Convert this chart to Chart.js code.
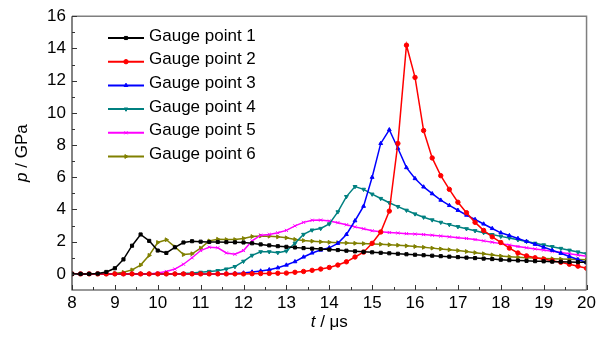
<!DOCTYPE html>
<html>
<head>
<meta charset="utf-8">
<script src="https://cdn.jsdelivr.net/npm/chart.js@4/dist/chart.umd.min.js"></script>
<style>
  html, body { margin: 0; padding: 0; background: #fff; }
  #wrap { width: 599px; height: 342px; position: relative; }
</style>
</head>
<body>
<div id="wrap"><canvas id="pressureChart"></canvas></div>
<script>
// time axis (µs), one sample every 0.2 µs
const times = [
  8.0, 8.2, 8.4, 8.6, 8.8, 9.0, 9.2, 9.4, 9.6, 9.8,
  10.0, 10.2, 10.4, 10.6, 10.8, 11.0, 11.2, 11.4, 11.6, 11.8,
  12.0, 12.2, 12.4, 12.6, 12.8, 13.0, 13.2, 13.4, 13.6, 13.8,
  14.0, 14.2, 14.4, 14.6, 14.8, 15.0, 15.2, 15.4, 15.6, 15.8,
  16.0, 16.2, 16.4, 16.6, 16.8, 17.0, 17.2, 17.4, 17.6, 17.8,
  18.0, 18.2, 18.4, 18.6, 18.8, 19.0, 19.2, 19.4, 19.6, 19.8,
  20.0
];

// pressure (GPa)
const gauge1 = [
  0, 0, 0, 0.02, 0.12, 0.35, 0.9, 1.75, 2.45, 2.05,
  1.45, 1.3, 1.65, 1.95, 2.03, 2.0, 1.98, 1.98, 1.97, 1.96,
  1.95, 1.9, 1.83, 1.77, 1.72, 1.68, 1.64, 1.6, 1.57, 1.54,
  1.51, 1.48, 1.44, 1.4, 1.37, 1.34, 1.31, 1.28, 1.25, 1.22,
  1.19, 1.16, 1.13, 1.1, 1.07, 1.04, 1.01, 0.98, 0.95, 0.92,
  0.88, 0.85, 0.83, 0.81, 0.79, 0.78, 0.76, 0.75, 0.74, 0.73,
  0.72
];
const gauge2 = [
  0, 0, 0, 0, 0, 0, 0, 0, 0, 0,
  0, 0, 0, 0, 0, 0, 0, 0, 0, 0,
  0, 0.01, 0.02, 0.03, 0.04, 0.05, 0.1, 0.15, 0.22, 0.3,
  0.4, 0.55, 0.75, 1.05, 1.35, 1.9, 2.6, 3.9, 8.1, 14.2,
  12.2, 8.9, 7.2, 6.1, 5.25, 4.45, 3.8, 3.2, 2.7, 2.3,
  1.95, 1.6, 1.3, 1.12, 1.0, 0.92, 0.82, 0.72, 0.6, 0.48,
  0.35
];
const gauge3 = [
  0, 0, 0, 0, 0, 0, 0, 0, 0, 0,
  0, 0, 0, 0, 0, 0, 0, 0, 0.01, 0.03,
  0.06, 0.12, 0.18, 0.26, 0.38, 0.55, 0.76, 1.05, 1.3, 1.48,
  1.62, 1.9, 2.45, 3.3, 4.2, 6.0, 8.1, 8.95, 7.8, 6.6,
  5.92, 5.4, 4.98, 4.58, 4.25, 3.95, 3.65, 3.38, 3.1, 2.82,
  2.55, 2.38, 2.2, 2.02, 1.84, 1.66, 1.47, 1.28, 1.08, 0.89,
  0.7
];
const gauge4 = [
  0, 0, 0, 0, 0, 0, 0, 0, 0, 0,
  0, 0, 0, 0.02, 0.05, 0.1, 0.15, 0.2, 0.3, 0.45,
  0.78, 1.15, 1.37, 1.37, 1.32, 1.42, 1.9, 2.45, 2.72, 2.82,
  3.1, 3.85, 4.8, 5.42, 5.25, 4.95, 4.68, 4.42, 4.18, 3.95,
  3.72, 3.52, 3.35, 3.2, 3.06, 2.93, 2.8, 2.68, 2.56, 2.44,
  2.33, 2.23, 2.12, 2.01, 1.9, 1.8, 1.69, 1.58, 1.47, 1.36,
  1.25
];
const gauge5 = [
  0, 0, 0, 0, 0, 0, 0, 0, 0, 0,
  0.05, 0.15, 0.3, 0.6, 1.0, 1.45, 1.66, 1.62, 1.3, 1.22,
  1.45, 2.05, 2.4, 2.45, 2.55, 2.7, 2.98, 3.2, 3.33, 3.34,
  3.28, 3.18, 3.05, 2.92, 2.8, 2.68, 2.61, 2.57, 2.54, 2.5,
  2.47, 2.44, 2.4, 2.35, 2.3, 2.25, 2.2, 2.13, 2.05, 1.97,
  1.88, 1.79, 1.7, 1.62, 1.55, 1.48, 1.4, 1.33, 1.25, 1.17,
  1.1
];
const gauge6 = [
  0, 0, 0, 0, 0, 0.03, 0.1, 0.25, 0.55, 1.15,
  1.95, 2.12, 1.68, 1.2, 1.25, 1.6, 2.05, 2.15, 2.13, 2.13,
  2.2, 2.32, 2.36, 2.34, 2.3, 2.24, 2.14, 2.07, 2.03, 1.99,
  1.96, 1.94, 1.92, 1.9, 1.88, 1.86, 1.84, 1.81, 1.78, 1.74,
  1.7, 1.65, 1.6, 1.55, 1.5, 1.45, 1.39, 1.32, 1.25, 1.18,
  1.11, 1.07, 1.03, 1.0, 0.98, 0.96, 0.94, 0.92, 0.91, 0.89,
  0.88
];

const seriesLabels = ['Gauge point 1', 'Gauge point 2', 'Gauge point 3', 'Gauge point 4', 'Gauge point 5', 'Gauge point 6'];
const xTicks = [8, 9, 10, 11, 12, 13, 14, 15, 16, 17, 18, 19, 20];
const yTicks = [0, 2, 4, 6, 8, 10, 12, 14, 16];

const FONT = "'Liberation Sans', Arial, sans-serif";

function makeSet(label, values, color, style, rotation) {
  return {
    label: label,
    data: values.map((v, i) => ({ x: times[i], y: v })),
    borderColor: color,
    backgroundColor: color,
    borderWidth: 1.5,
    pointStyle: style,
    pointRotation: rotation,
    pointRadius: 2.2,
    pointBorderWidth: 1,
    tension: 0
  };
}

const datasets = [
  makeSet(seriesLabels[0], gauge1, '#000000', 'rect', 0),
  makeSet(seriesLabels[1], gauge2, '#ff0000', 'circle', 0),
  makeSet(seriesLabels[2], gauge3, '#0000ff', 'triangle', 0),
  makeSet(seriesLabels[3], gauge4, '#008080', 'triangle', 180),
  makeSet(seriesLabels[4], gauge5, '#ff00ff', 'crossRot', 0),
  makeSet(seriesLabels[5], gauge6, '#808000', 'triangle', 90)
];

// frame, inward ticks, axis titles and the legend inside the plot
const decorPlugin = {
  id: 'decor',
  afterDraw(chart) {
    const ctx = chart.ctx;
    const a = chart.chartArea;
    const xs = chart.scales.x;
    const ys = chart.scales.y;
    ctx.save();

    // box
    ctx.lineWidth = 1.5;
    ctx.strokeStyle = '#7f7f7f';
    ctx.beginPath();
    ctx.moveTo(a.left, a.top); ctx.lineTo(a.right, a.top); ctx.lineTo(a.right, a.bottom);
    ctx.stroke();
    ctx.strokeStyle = '#333';
    ctx.lineWidth = 1.2;
    ctx.beginPath();
    ctx.moveTo(a.left, a.top); ctx.lineTo(a.left, a.bottom); ctx.lineTo(a.right, a.bottom);
    ctx.stroke();

    // ticks pointing inward
    ctx.lineWidth = 1;
    ctx.beginPath();
    for (let v = 8; v <= 20; v += 0.5) {
      const px = Math.round(xs.getPixelForValue(v)) + 0.5;
      const len = Number.isInteger(v) ? 5 : 3;
      ctx.moveTo(px, a.bottom); ctx.lineTo(px, a.bottom - len);
    }
    for (let v = 0; v <= 16; v += 1) {
      const py = Math.round(ys.getPixelForValue(v)) + 0.5;
      const len = v % 2 === 0 ? 5 : 3;
      ctx.moveTo(a.left, py); ctx.lineTo(a.left + len, py);
    }
    ctx.stroke();

    // axis titles with italic variable
    ctx.fillStyle = '#000';
    ctx.textBaseline = 'middle';
    ctx.textAlign = 'left';
    const italic = 'italic 17px ' + FONT;
    const normal = '17px ' + FONT;

    ctx.font = italic;
    const tW = ctx.measureText('t').width;
    ctx.font = normal;
    const usW = ctx.measureText(' / μs').width;
    let sx = (a.left + a.right) / 2 - (tW + usW) / 2;
    ctx.font = italic; ctx.fillText('t', sx, 322);
    ctx.font = normal; ctx.fillText(' / μs', sx + tW, 322);

    ctx.save();
    ctx.translate(22, (a.top + a.bottom) / 2);
    ctx.rotate(-Math.PI / 2);
    ctx.font = italic;
    const pW = ctx.measureText('p').width;
    ctx.font = normal;
    const gW = ctx.measureText(' / GPa').width;
    sx = -(pW + gW) / 2;
    ctx.font = italic; ctx.fillText('p', sx, 0);
    ctx.font = normal; ctx.fillText(' / GPa', sx + pW, 0);
    ctx.restore();

    // legend
    chart.data.datasets.forEach((ds, i) => {
      const ly = 38 + i * 23.7;
      ctx.strokeStyle = ds.borderColor;
      ctx.fillStyle = ds.borderColor;
      ctx.lineWidth = 2;
      ctx.beginPath();
      ctx.moveTo(108, ly); ctx.lineTo(144, ly);
      ctx.stroke();
      ctx.lineWidth = 1;
      Chart.helpers.drawPoint(ctx, {
        pointStyle: ds.pointStyle,
        rotation: ds.pointRotation,
        radius: 2.2,
        borderWidth: 1
      }, 126, ly);
      ctx.fillStyle = '#000';
      ctx.font = normal;
      ctx.textBaseline = 'middle';
      ctx.fillText(ds.label, 149, ly - 2);
    });

    ctx.restore();
  }
};

document.addEventListener('DOMContentLoaded', function() {
  const ctx = document.getElementById('pressureChart').getContext('2d');

  new Chart(ctx, {
    type: 'line',
    data: { datasets: datasets },
    options: {
      responsive: true,
      maintainAspectRatio: false,
      animation: false,
      layout: { padding: { top: 14, right: 11, left: 0, bottom: 0 } },
      plugins: {
        legend: { display: false },
        tooltip: { enabled: false }
      },
      scales: {
        x: {
          type: 'linear',
          min: 8,
          max: 20,
          grid: { display: false, drawTicks: false },
          border: { display: false },
          afterBuildTicks: function(scale) {
            scale.ticks = xTicks.map(v => ({ value: v }));
          },
          afterFit: function(scale) { scale.height = 52; },
          ticks: {
            padding: 3,
            maxRotation: 0,
            color: '#000',
            font: { family: FONT, size: 17 }
          }
        },
        y: {
          min: -1,
          max: 16,
          grid: { display: false, drawTicks: false },
          border: { display: false },
          afterBuildTicks: function(scale) {
            scale.ticks = yTicks.map(v => ({ value: v }));
          },
          afterFit: function(scale) { scale.width = 72; },
          ticks: {
            padding: 6,
            color: '#000',
            font: { family: FONT, size: 17 }
          }
        }
      }
    },
    plugins: [decorPlugin]
  });
});
</script>
</body>
</html>
